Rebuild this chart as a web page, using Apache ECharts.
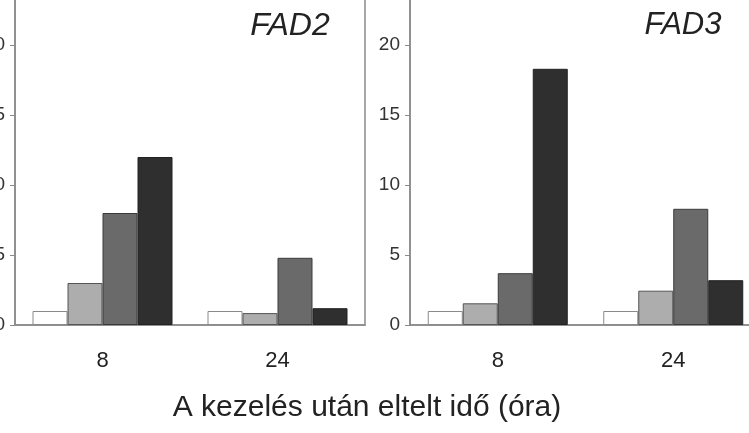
<!DOCTYPE html>
<html>
<head>
<meta charset="utf-8">
<script src="https://cdn.jsdelivr.net/npm/echarts@6/dist/echarts.min.js"></script>
<style>
  html, body { margin: 0; padding: 0; background: #fff; }
  #chart { width: 749px; height: 433px; }
</style>
</head>
<body>
<div id="chart"></div>
<script>
// kategóriák (idő, óra)
var hours = ['8', '24'];
var yTicks = [0, 5, 10, 15, 20];

// FAD2 relatív expresszió
var fad2_a = [1.0, 1.0];
var fad2_b = [3.0, 0.85];
var fad2_c = [8.0, 4.8];
var fad2_d = [12.0, 1.2];

// FAD3 relatív expresszió
var fad3_a = [1.0, 1.0];
var fad3_b = [1.55, 2.45];
var fad3_c = [3.7, 8.3];
var fad3_d = [18.3, 3.2];

var fills = ['#ffffff', '#adadad', '#6a6a6a', '#2f2f2f'];
var borders = ['#8a8a8a', '#555555', '#3a3a3a', '#222222'];

var font = 'Liberation Sans, Arial, sans-serif';

function bars(data, idx, axis) {
  return {
    type: 'bar',
    xAxisIndex: axis,
    yAxisIndex: axis,
    data: data,
    barWidth: 35,
    barGap: '0%',
    itemStyle: { color: fills[idx], borderColor: borders[idx], borderWidth: 1 },
    silent: true
  };
}

function xAx(i) {
  return {
    type: 'category',
    gridIndex: i,
    data: hours,
    axisLine: { lineStyle: { color: '#8a8a8a', width: 1.5 } },
    axisTick: { show: false },
    axisLabel: { color: '#222', fontSize: 22, fontFamily: font, margin: 25 }
  };
}

function yAx(i) {
  return {
    type: 'value',
    gridIndex: i,
    min: yTicks[0],
    max: 24,
    interval: yTicks[1] - yTicks[0],
    splitLine: { show: false },
    axisLine: { show: true, lineStyle: { color: '#8a8a8a', width: 1.5 } },
    axisTick: { show: true, length: 5, lineStyle: { color: '#8a8a8a' } },
    axisLabel: { color: '#333', fontSize: 19, fontFamily: font, margin: 10, showMaxLabel: false }
  };
}

var myChart = echarts.init(document.getElementById('chart'));
var option = {
  animation: false,
  backgroundColor: '#fff',
  grid: [
    { left: 15, right: 384, top: -11, bottom: 108, containLabel: false, outerBoundsMode: 'none', show: true, borderColor: '#8a8a8a', borderWidth: 1.5 },
    { left: 410, right: -12, top: -11, bottom: 108, containLabel: false, outerBoundsMode: 'none', show: true, borderColor: '#8a8a8a', borderWidth: 1.5 }
  ],
  xAxis: [xAx(0), xAx(1)],
  yAxis: [yAx(0), yAx(1)],
  series: [
    bars(fad2_a, 0, 0), bars(fad2_b, 1, 0), bars(fad2_c, 2, 0), bars(fad2_d, 3, 0),
    bars(fad3_a, 0, 1), bars(fad3_b, 1, 1), bars(fad3_c, 2, 1), bars(fad3_d, 3, 1)
  ],
  graphic: [
    { type: 'text', x: 290, y: 26, style: { text: 'FAD2', font: 'italic 32px ' + font, fill: '#222', align: 'center', verticalAlign: 'middle' } },
    { type: 'text', x: 683, y: 25, style: { text: 'FAD3', font: 'italic 31px ' + font, fill: '#222', align: 'center', verticalAlign: 'middle' } },
    { type: 'text', x: 367, y: 408, style: { text: 'A kezelés után eltelt idő (óra)', font: '30px ' + font, fill: '#222', align: 'center', verticalAlign: 'middle' } }
  ]
};
option && myChart.setOption(option);
</script>
</body>
</html>
